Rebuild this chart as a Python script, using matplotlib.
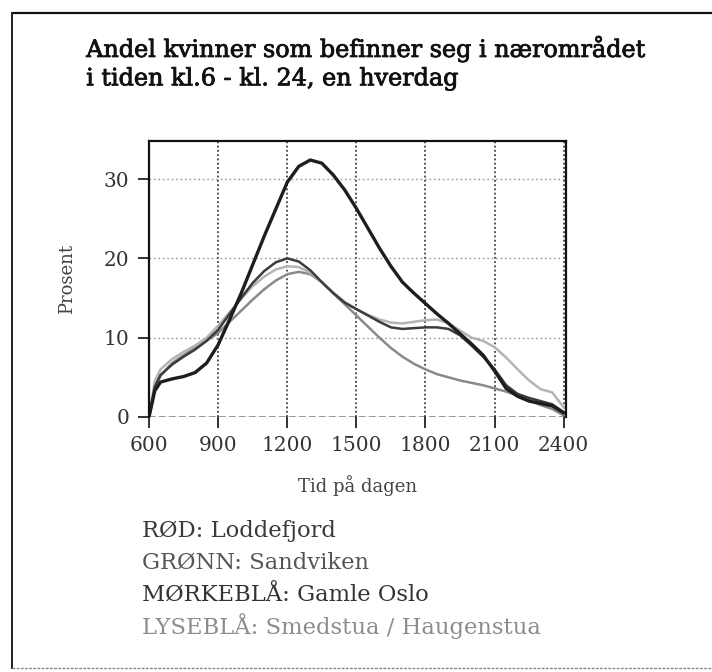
"""Share of women staying in their local area on a weekday, 06-24."""

import matplotlib

matplotlib.use("Agg")
import matplotlib.patheffects as pe  # noqa: E402
import matplotlib.pyplot as plt  # noqa: E402
from matplotlib.lines import Line2D  # noqa: E402
from matplotlib.ticker import FuncFormatter  # noqa: E402

# clock time in hours
HOURS = [6.0, 6.25, 6.5, 7.0, 7.5, 8.0, 8.5, 9.0, 9.5, 10.0, 10.5, 11.0,
         11.5, 12.0, 12.5, 13.0, 13.5, 14.0, 14.5, 15.0, 15.5, 16.0, 16.5,
         17.0, 17.5, 18.0, 18.5, 19.0, 19.5, 20.0, 20.5, 21.0, 21.5, 22.0,
         22.5, 23.0, 23.5, 24.0]

# percent
PEAK = [0.0, 3.3, 4.4, 4.8, 5.1, 5.6, 6.8, 9.1, 12.3, 15.6, 19.2, 22.8,
        26.2, 29.6, 31.6, 32.4, 32.0, 30.5, 28.6, 26.3, 23.8, 21.3, 19.0,
        17.0, 15.6, 14.3, 13.0, 11.8, 10.5, 9.2, 7.8, 5.8, 3.6, 2.6,
        2.0, 1.7, 1.4, 0.5]
PLATEAU_DARK = [0.0, 3.8, 5.3, 6.6, 7.6, 8.5, 9.6, 11.0, 13.0, 15.0, 16.9,
                18.4, 19.5, 20.0, 19.6, 18.5, 17.0, 15.6, 14.4, 13.6, 12.8,
                12.0, 11.3, 11.1, 11.2, 11.3, 11.3, 11.1, 10.3, 9.0, 7.6,
                6.0, 4.0, 2.9, 2.4, 2.0, 1.6, 0.6]
PLATEAU_LIGHT = [0.0, 4.5, 6.0, 7.3, 8.2, 9.0, 10.0, 11.5, 13.2, 14.9, 16.5,
                 17.7, 18.6, 19.0, 18.9, 18.2, 17.0, 15.7, 14.5, 13.6, 12.9,
                 12.3, 11.9, 11.8, 12.0, 12.2, 12.3, 11.8, 10.9, 10.0, 9.6,
                 8.8, 7.5, 6.0, 4.6, 3.5, 3.1, 1.2]
DECLINE = [0.0, 3.6, 5.2, 6.8, 7.8, 8.7, 9.6, 10.6, 12.0, 13.4, 14.8, 16.1,
           17.2, 18.0, 18.3, 18.0, 17.0, 15.6, 14.2, 12.8, 11.4, 10.0, 8.7,
           7.6, 6.7, 6.0, 5.4, 5.0, 4.6, 4.3, 4.0, 3.6, 3.2, 2.7, 2.1, 1.5,
           1.0, 0.2]

X_TICKS = [6, 9, 12, 15, 18, 21, 24]
Y_TICKS = [0, 10, 20, 30]

TITLE = "Andel kvinner som befinner seg i nærområdet\ni tiden kl.6 - kl. 24, en hverdag"
LEGEND_LINES = [
    ("RØD: Loddefjord", "#3a3a3a"),
    ("GRØNN: Sandviken", "#555555"),
    ("MØRKEBLÅ: Gamle Oslo", "#333333"),
    ("LYSEBLÅ: Smedstua / Haugenstua", "#8c8c8c"),
]

plt.rcParams.update({"font.family": ["DejaVu Serif"]})

fig = plt.figure(figsize=(7.12, 6.72), dpi=100)
ax = fig.add_axes([0.2093, 0.3795, 0.5857, 0.4107])

series = [
    (DECLINE, "#8a8a8a", 1.8),
    (PLATEAU_LIGHT, "#b4b4b4", 1.8),
    (PLATEAU_DARK, "#3c3c3c", 1.8),
    (PEAK, "#1e1e1e", 2.4),
]
for values, color, width in series:
    ax.plot(HOURS, values, color=color, linewidth=width, solid_capstyle="round")

ax.set_xlim(6, 24.1)
ax.set_ylim(0, 34.8)
ax.set_xticks(X_TICKS)
ax.set_yticks(Y_TICKS)
ax.xaxis.set_major_formatter(FuncFormatter(lambda h, _: f"{int(round(h * 100))}"))

ax.grid(axis="x", color="#222222", linestyle=(0, (1.2, 1.6)), linewidth=1.1)
ax.grid(axis="y", color="#9a9a9a", linestyle=(0, (1.2, 2.0)), linewidth=1.0)
ax.axhline(0, color="#888888", linestyle=(0, (4, 2)), linewidth=1.2, zorder=0)
ax.set_axisbelow(True)

for side in ("left", "top", "right"):
    ax.spines[side].set_linewidth(1.6)
    ax.spines[side].set_color("#111111")
ax.spines["bottom"].set_visible(False)

ax.tick_params(axis="both", direction="out", length=8, width=1.3,
               color="#222222", labelcolor="#333333", labelsize=14.5)
ax.tick_params(axis="x", pad=6)
ax.tick_params(axis="y", pad=6)

ax.set_xlabel("Tid på dagen", fontsize=13, color="#444444", labelpad=14)
ax.set_ylabel("Prosent", fontsize=13, color="#444444", labelpad=20)

title = fig.text(0.121, 0.948, TITLE, fontsize=17.2, color="#111111",
                 va="top", ha="left", linespacing=1.3)
title.set_path_effects([pe.withStroke(linewidth=0.6, foreground="#111111")])

for i, (line, color) in enumerate(LEGEND_LINES):
    fig.text(0.200, 0.201 - i * 0.048, line, fontsize=16.3, color=color,
             va="baseline", ha="left")

# frame around the scanned page
fig.add_artist(Line2D([0.02, 1.0], [0.981, 0.981], color="#111111", linewidth=1.6))
fig.add_artist(Line2D([0.017, 0.017], [0.006, 0.981], color="#222222", linewidth=1.4))
fig.add_artist(Line2D([0.017, 1.0], [0.006, 0.006], color="#888888",
                      linewidth=1.0, linestyle=(0, (2, 1))))

fig.savefig("out.png", dpi=100, facecolor="white")
plt.close(fig)
